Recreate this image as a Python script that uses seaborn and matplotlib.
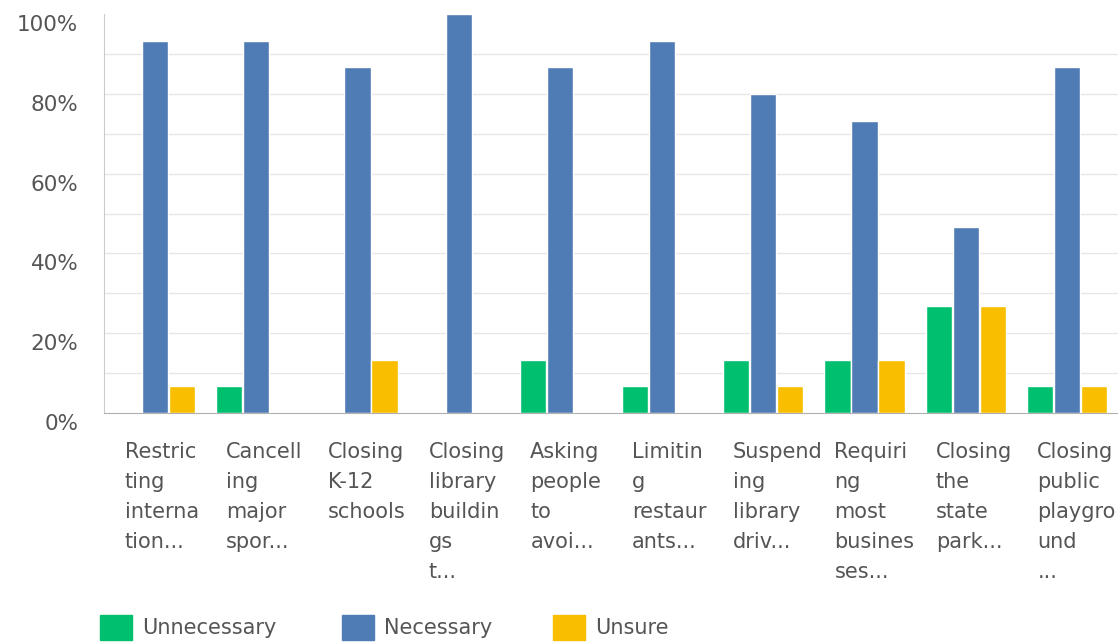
import matplotlib
matplotlib.use("Agg")
import matplotlib.pyplot as plt
import matplotlib.transforms as mtransforms
from matplotlib.patches import Patch
from matplotlib.ticker import MultipleLocator, FuncFormatter
import seaborn as sns
import pandas as pd

# Survey measures (labels wrapped and truncated as in the survey export)
categories = [
    "Restric\nting\ninterna\ntion...",
    "Cancell\ning\nmajor\nspor...",
    "Closing\nK-12\nschools",
    "Closing\nlibrary\nbuildin\ngs\nt...",
    "Asking\npeople\nto\navoi...",
    "Limitin\ng\nrestaur\nants...",
    "Suspend\ning\nlibrary\ndriv...",
    "Requiri\nng\nmost\nbusines\nses...",
    "Closing\nthe\nstate\npark...",
    "Closing\npublic\nplaygro\nund\n...",
]
responses = ["Unnecessary", "Necessary", "Unsure"]

unnecessary = [0.0, 6.7, 0.0, 0.0, 13.3, 6.7, 13.3, 13.3, 26.7, 6.7]
necessary = [93.3, 93.3, 86.7, 100.0, 86.7, 93.3, 80.0, 73.3, 46.7, 86.7]
unsure = [6.7, 0.0, 13.3, 0.0, 0.0, 0.0, 6.7, 13.3, 26.7, 6.7]

colors = ["#00BF6F", "#507CB6", "#F9BE00"]
text_color = "#555555"

rows = []
for series, vals in zip(responses, [unnecessary, necessary, unsure]):
    for cat, v in zip(categories, vals):
        rows.append({"measure": cat, "response": series, "pct": v})
df = pd.DataFrame(rows)

sns.set_style("white")
plt.rcParams["font.family"] = ["DejaVu Sans"]

fig = plt.figure(figsize=(11.18, 6.42), dpi=100)
ax = fig.add_axes([104 / 1118, 1 - 413 / 642, 1 - 104 / 1118, (413 - 14) / 642])

# Light horizontal guides every 10%, none at the top
for g in range(10, 100, 10):
    ax.axhline(g, color="#e6e6e6", linewidth=1, zorder=0)

sns.barplot(data=df, x="measure", y="pct", hue="response", order=categories,
            hue_order=responses, palette=colors, width=0.8, gap=0.03,
            saturation=1, ax=ax, legend=False)

ax.set_ylim(0, 100)
ax.set_xlim(-0.5, len(categories) - 0.5)
ax.yaxis.set_major_locator(MultipleLocator(20))
ax.yaxis.set_major_formatter(FuncFormatter(lambda v, _: f"{int(v)}%"))
ax.grid(False)
ax.set_xlabel("")
ax.set_ylabel("")

for s in ["top", "right"]:
    ax.spines[s].set_visible(False)
ax.spines["left"].set_color("#cccccc")
ax.spines["bottom"].set_color("#b0b0b0")

ax.tick_params(axis="y", which="both", length=0, pad=18.5, labelsize=15.5,
               labelcolor=text_color)
ax.tick_params(axis="x", length=0, pad=21, labelsize=15, labelcolor=text_color)

ylab_shift = mtransforms.ScaledTranslation(0, -9 / 100, fig.dpi_scale_trans)
for lab in ax.get_yticklabels():
    lab.set_transform(lab.get_transform() + ylab_shift)

xlab_shift = mtransforms.ScaledTranslation(-30 / 100, 0, fig.dpi_scale_trans)
ax.set_xticks(range(len(categories)))
ax.set_xticklabels(categories, ha="left", va="top", linespacing=1.62)
for lab in ax.get_xticklabels():
    lab.set_transform(lab.get_transform() + xlab_shift)

# Legend entries placed individually along the bottom
legend_x = [92, 334, 545]
for name, col, x in zip(responses, colors, legend_x):
    fig.legend(handles=[Patch(facecolor=col, edgecolor=col, label=name)],
               loc="lower left", bbox_to_anchor=(x / 1118, -0.010),
               frameon=False, fontsize=15, labelcolor=text_color,
               handlelength=1.5, handleheight=1.5, handletextpad=0.5,
               borderaxespad=0)

fig.savefig("out.png", dpi=100)
